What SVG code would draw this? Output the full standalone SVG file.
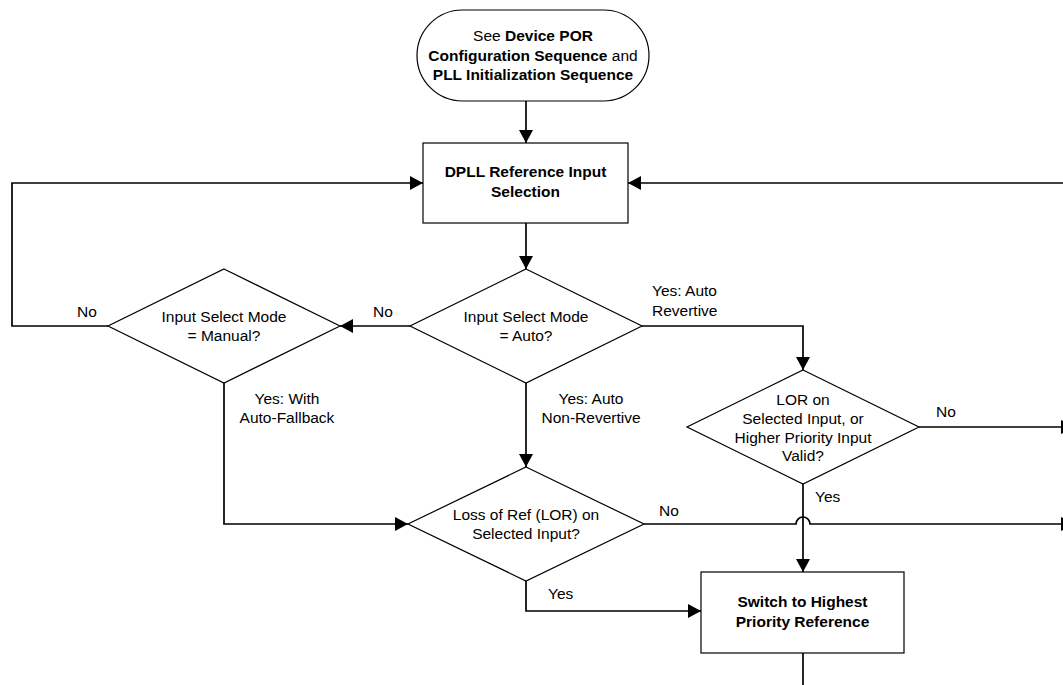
<svg xmlns="http://www.w3.org/2000/svg" width="1063" height="685" viewBox="0 0 1063 685">
<style>
.shape{fill:#fff;stroke:#000;stroke-width:1.2}
.conn{fill:none;stroke:#000;stroke-width:1.7}
text{font-family:"Liberation Sans",Arial,sans-serif;font-size:15.5px;fill:#000}
.c{text-anchor:middle}
.b{font-weight:bold}
</style>
<defs>
<marker id="arr" viewBox="0 0 13 14" refX="13" refY="7" markerWidth="13" markerHeight="14" markerUnits="userSpaceOnUse" orient="auto">
<path d="M0,0 L13,7 L0,14 Z" fill="#000"/>
</marker>
</defs>
<g id="connectors">
<path class="conn" d="M526,101 V143" marker-end="url(#arr)"/>
<path class="conn" d="M526,223 V269" marker-end="url(#arr)"/>
<path class="conn" d="M1063,183 H628" marker-end="url(#arr)"/>
<path class="conn" d="M108,326 H12 V183 H423" marker-end="url(#arr)"/>
<path class="conn" d="M410,326 H340" marker-end="url(#arr)"/>
<path class="conn" d="M224,383 V524 H408" marker-end="url(#arr)"/>
<path class="conn" d="M526,383 V467" marker-end="url(#arr)"/>
<path class="conn" d="M642,326 H803 V370" marker-end="url(#arr)"/>
<path class="conn" d="M919,427 H1074" marker-end="url(#arr)"/>
<path class="conn" d="M803,484 V572" marker-end="url(#arr)"/>
<path class="conn" d="M644,524 H796 A7,7 0 0 1 810,524 H1074" marker-end="url(#arr)"/>
<path class="conn" d="M526,581 V611 H701" marker-end="url(#arr)"/>
<path class="conn" d="M803,653 V685"/>
<text x="87" y="317" class="c">No</text>
<text x="383" y="317" class="c">No</text>
<text x="652" y="296">Yes: Auto</text>
<text x="652" y="316">Revertive</text>
<text x="287" y="404" class="c">Yes: With</text>
<text x="287" y="423" class="c">Auto-Fallback</text>
<text x="591" y="404" class="c">Yes: Auto</text>
<text x="591" y="423" class="c">Non-Revertive</text>
<text x="936" y="417">No</text>
<text x="815" y="502">Yes</text>
<text x="659" y="516">No</text>
<text x="548" y="599">Yes</text>
</g>
<g id="start">
<rect class="shape" x="417" y="10" width="232" height="91" rx="45.5" ry="45.5"/>
<text x="533" y="41" class="c">See <tspan class="b">Device POR</tspan></text>
<text x="533" y="61" class="c"><tspan class="b">Configuration Sequence</tspan> and</text>
<text x="533" y="80" class="c b">PLL Initialization Sequence</text>
</g>
<g id="dpll-select">
<rect class="shape" x="423" y="143" width="205" height="80"/>
<text x="525.5" y="177" class="c b">DPLL Reference Input</text>
<text x="525.5" y="197" class="c b">Selection</text>
</g>
<g id="mode-auto">
<polygon class="shape" points="526,269 642,326 526,383 410,326"/>
<text x="526" y="322" class="c">Input Select Mode</text>
<text x="526" y="341" class="c">= Auto?</text>
</g>
<g id="mode-manual">
<polygon class="shape" points="224,269 340,326 224,383 108,326"/>
<text x="224" y="322" class="c">Input Select Mode</text>
<text x="224" y="341" class="c">= Manual?</text>
</g>
<g id="lor-selected">
<polygon class="shape" points="526,467 644,524 526,581 408,524"/>
<text x="526" y="520" class="c">Loss of Ref (LOR) on</text>
<text x="526" y="539" class="c">Selected Input?</text>
</g>
<g id="lor-or-higher">
<polygon class="shape" points="803,370 919,427 803,484 687,427"/>
<text x="803" y="405" class="c">LOR on</text>
<text x="803" y="424" class="c">Selected Input, or</text>
<text x="803" y="443" class="c">Higher Priority Input</text>
<text x="803" y="461" class="c">Valid?</text>
</g>
<g id="switch">
<rect class="shape" x="701" y="572" width="203" height="81"/>
<text x="802.5" y="607" class="c b">Switch to Highest</text>
<text x="802.5" y="627" class="c b">Priority Reference</text>
</g>
</svg>
